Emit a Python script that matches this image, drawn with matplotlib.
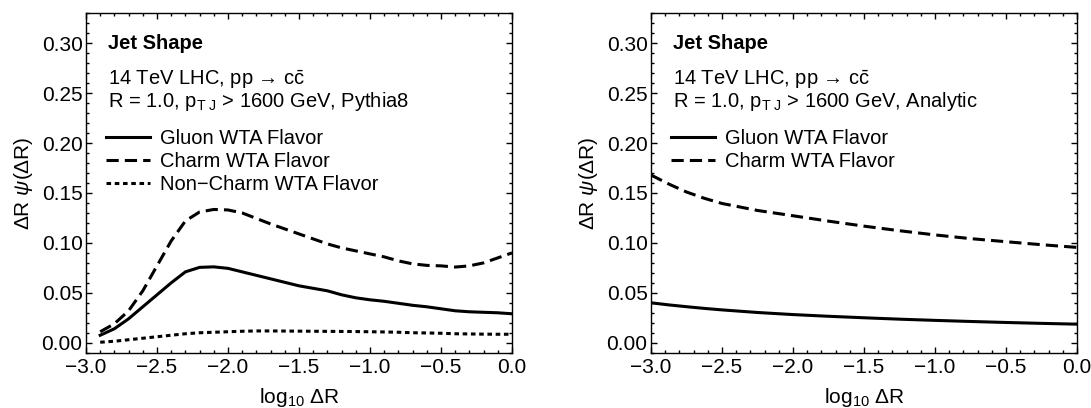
import numpy as np
import matplotlib
matplotlib.use('Agg')
import matplotlib.pyplot as plt
from matplotlib.ticker import MultipleLocator

# Fontes
plt.rcParams['font.family'] = ['Liberation Sans', 'DejaVu Sans']
plt.rcParams['mathtext.fontset'] = 'custom'
plt.rcParams['mathtext.rm'] = 'Liberation Sans'
plt.rcParams['mathtext.it'] = 'Liberation Sans:italic'
plt.rcParams['mathtext.bf'] = 'Liberation Sans:bold'

# Dados - painel esquerdo (Pythia8)
log_dr_mc = [-2.9, -2.8, -2.7, -2.6, -2.5, -2.4, -2.3, -2.2, -2.1, -2.0,
             -1.9, -1.8, -1.7, -1.6, -1.5, -1.4, -1.3, -1.2, -1.1, -1.0,
             -0.9, -0.8, -0.7, -0.6, -0.5, -0.4, -0.3, -0.2, -0.1, 0.0]
gluon_mc = [0.0075, 0.014, 0.024, 0.036, 0.048, 0.060, 0.071, 0.0755, 0.0760, 0.0745,
            0.071, 0.0675, 0.064, 0.0605, 0.057, 0.0545, 0.052, 0.048, 0.045, 0.043,
            0.0415, 0.0395, 0.0375, 0.036, 0.034, 0.032, 0.031, 0.0305, 0.030, 0.029]
charm_mc = [0.011, 0.019, 0.032, 0.052, 0.077, 0.102, 0.122, 0.131, 0.1335, 0.133,
            0.130, 0.1245, 0.119, 0.114, 0.109, 0.104, 0.099, 0.095, 0.092, 0.089,
            0.086, 0.082, 0.079, 0.0775, 0.077, 0.0758, 0.077, 0.080, 0.085, 0.090]
noncharm_mc = [0.0005, 0.0015, 0.003, 0.0045, 0.006, 0.0075, 0.009, 0.010, 0.0105, 0.011,
               0.0115, 0.0118, 0.0118, 0.0117, 0.0116, 0.0115, 0.0114, 0.0113, 0.0112, 0.011,
               0.0108, 0.0105, 0.010, 0.0098, 0.0095, 0.009, 0.0088, 0.0086, 0.0085, 0.0085]

# Dados - painel direito (analítico)
log_dr_an = [-3.0, -2.875, -2.75, -2.625, -2.5, -2.25, -2.0, -1.75, -1.5, -1.25, -1.0, -0.75, -0.5, -0.25, 0.0]
gluon_an = [0.040, 0.0379, 0.0361, 0.0344, 0.0329, 0.0303, 0.0282, 0.0265, 0.0250, 0.0236,
            0.0224, 0.0213, 0.0203, 0.0194, 0.0186]
charm_an = [0.168, 0.159, 0.151, 0.1447, 0.1395, 0.1325, 0.1272, 0.1218, 0.1168, 0.1122,
            0.108, 0.1043, 0.1012, 0.0982, 0.0955]

FS = 14.5      # textos dentro do gráfico
FS_TICK = 15
FS_LAB = 15
LW = 2.2
DASH = (0, (4, 2))
DOT = (0, (1.5, 1.2))

fig = plt.figure(figsize=(10.91, 4.08), dpi=100)
ax1 = fig.add_axes([86 / 1091, 0.1355, 426 / 1091, 0.8319])
ax2 = fig.add_axes([651 / 1091, 0.1355, 426 / 1091, 0.8319])


def estilo(ax):
    ax.set_xlim(-3.0, 0.0)
    ax.set_ylim(-0.01, 0.33)
    ax.set_yticks(np.arange(0, 0.301, 0.05))
    ax.xaxis.set_major_locator(MultipleLocator(0.5))
    ax.xaxis.set_minor_locator(MultipleLocator(0.1))
    ax.yaxis.set_minor_locator(MultipleLocator(0.01))
    ax.tick_params(which='both', direction='in', top=True, right=True, labelsize=FS_TICK, width=1.0)
    ax.tick_params(which='major', length=4)
    ax.tick_params(which='minor', length=2)
    ax.tick_params(axis='y', pad=2.5)
    ax.tick_params(axis='x', pad=3.5)
    for s in ax.spines.values():
        s.set_linewidth(1.0)
    ax.set_xlabel('log$_{10}$ \u0394R', fontsize=FS_LAB, labelpad=7)
    ax.set_ylabel('\u0394R $\\psi$(\u0394R)', fontsize=FS_LAB, labelpad=5)
    ax.text(0.0507, 0.9116, 'Jet Shape', transform=ax.transAxes, fontsize=FS,
            fontweight='bold', va='center', ha='left')
    ax.text(0.0507, 0.804, '14 TeV LHC, pp \u2192 c$\\bar{\\mathrm{c}}$', transform=ax.transAxes,
            fontsize=FS, va='center', ha='left')


# Painel esquerdo
estilo(ax1)
ax1.plot(log_dr_mc, gluon_mc, color='black', lw=LW, label='Gluon WTA Flavor')
ax1.plot(log_dr_mc, charm_mc, color='black', lw=LW, ls=DASH, label='Charm WTA Flavor')
ax1.plot(log_dr_mc, noncharm_mc, color='black', lw=LW, ls=DOT, label='Non\u2212Charm WTA Flavor')
ax1.text(0.0507, 0.739, r'R = 1.0, $\mathrm{p}_{\mathrm{T\ J}}$ > 1600 GeV, Pythia8', transform=ax1.transAxes,
         fontsize=FS, va='center', ha='left')

# Painel direito
estilo(ax2)
ax2.plot(log_dr_an, gluon_an, color='black', lw=LW, label='Gluon WTA Flavor')
ax2.plot(log_dr_an, charm_an, color='black', lw=LW, ls=DASH, label='Charm WTA Flavor')
ax2.text(0.0507, 0.739, r'R = 1.0, $\mathrm{p}_{\mathrm{T\ J}}$ > 1600 GeV, Analytic', transform=ax2.transAxes,
         fontsize=FS, va='center', ha='left')

for ax in [ax1, ax2]:
    ax.legend(loc='upper left', bbox_to_anchor=(0.047, 0.658), frameon=False, fontsize=FS,
              borderpad=0, borderaxespad=0, handlelength=2.2, handletextpad=0.5,
              labelspacing=0.2)

plt.savefig('out.png', dpi=100)
